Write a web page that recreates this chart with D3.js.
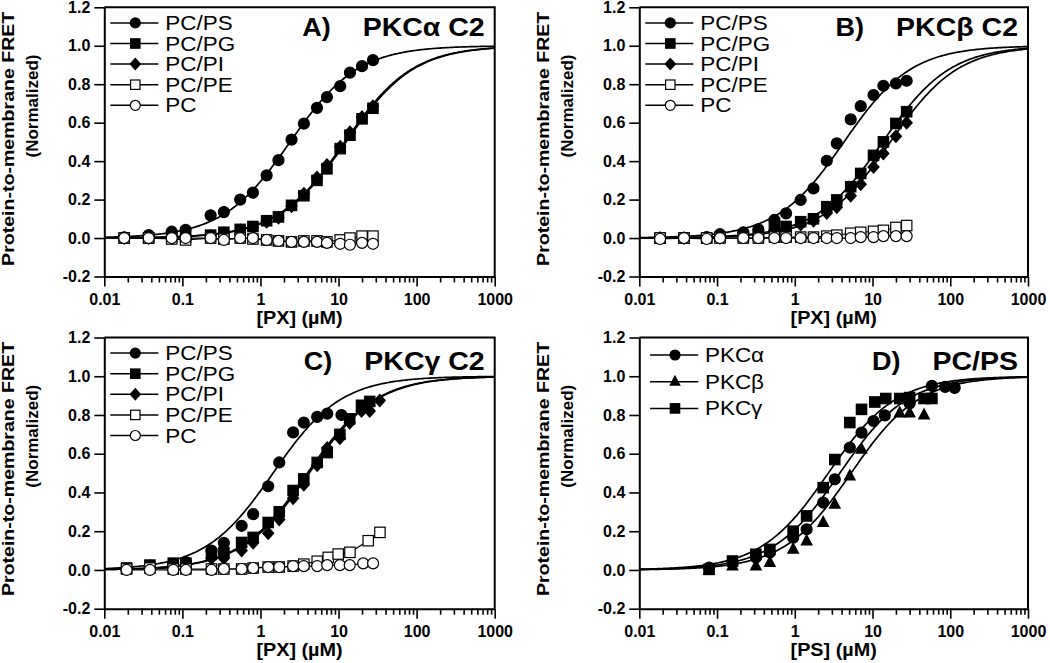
<!DOCTYPE html>
<html><head><meta charset="utf-8">
<script src="https://cdn.jsdelivr.net/npm/d3@7"></script>
<style>body{margin:0;background:#fff}svg{display:block}</style>
</head><body>
<svg id="chart" width="1050" height="663"></svg>
<script>
// ---------------- DATA ----------------
const decadeTicks = [0.01, 0.1, 1, 10, 100, 1000];
const decadeLabels = ["0.01", "0.1", "1", "10", "100", "1000"];
const yTicks = [-0.2, 0.0, 0.2, 0.4, 0.6, 0.8, 1.0, 1.2];
const panelLetters = ["A)", "B)", "C)", "D)"];
const panelTitles = ["PKCα C2", "PKCβ C2", "PKCγ C2", "PC/PS"];
const xTitles = ["[PX] (µM)", "[PX] (µM)", "[PX] (µM)", "[PS] (µM)"];
const yTitle1 = "Protein-to-membrane FRET";
const yTitle2 = "(Normalized)";
const lipidNames = ["PC/PS", "PC/PG", "PC/PI", "PC/PE", "PC"];
const isoformNames = ["PKCα", "PKCβ", "PKCγ"];

// Panel A: PKCalpha C2
const concA = [0.018, 0.037, 0.073, 0.11, 0.23, 0.34, 0.55, 0.8, 1.2, 1.7, 2.5, 3.6, 5.3, 7.1, 10.5, 14, 20, 27.6];
const A_PS = [0.003, 0.015, 0.033, 0.043, 0.118, 0.135, 0.2, 0.236, 0.326, 0.405, 0.512, 0.595, 0.677, 0.733, 0.79, 0.86, 0.894, 0.925];
const A_PG = [0.0, 0.0, 0.005, 0.005, 0.015, 0.03, 0.045, 0.06, 0.09, 0.11, 0.17, 0.22, 0.30, 0.36, 0.465, 0.535, 0.62, 0.675];
const A_PI = [0.0, 0.0, 0.005, 0.005, 0.01, 0.025, 0.04, 0.055, 0.085, 0.105, 0.165, 0.23, 0.315, 0.38, 0.475, 0.55, 0.63, 0.685];
const A_PE = [0.0, 0.0, -0.005, -0.01, 0.0, -0.005, 0.0, -0.005, -0.01, -0.015, -0.02, -0.015, -0.015, -0.02, -0.01, 0.0, 0.01, 0.01];
const A_PC = [0.0, 0.0, 0.0, 0.0, 0.0, -0.01, 0.0, 0.0, -0.01, -0.015, -0.02, -0.02, -0.02, -0.025, -0.03, -0.035, -0.025, -0.03];
const kdA = [2.4, 12.5, 12.0];   // fitted Kd (PS, PG, PI)

// Panel B: PKCbeta C2
const concB = [0.0185, 0.0376, 0.0736, 0.109, 0.218, 0.34, 0.547, 0.773, 1.19, 1.74, 2.58, 3.47, 5.24, 7.05, 10.3, 13.8, 20.0, 27.5];
const B_PS = [0.0, 0.0, 0.005, 0.02, 0.03, 0.045, 0.094, 0.128, 0.198, 0.258, 0.402, 0.492, 0.617, 0.686, 0.744, 0.792, 0.804, 0.818];
const B_PG = [0.0, 0.0, 0.0, 0.005, 0.01, 0.015, 0.06, 0.06, 0.085, 0.10, 0.163, 0.198, 0.267, 0.336, 0.43, 0.50, 0.596, 0.657];
const B_PI = [0.0, 0.0, 0.0, 0.0, 0.005, 0.01, 0.04, 0.05, 0.07, 0.09, 0.13, 0.16, 0.22, 0.28, 0.37, 0.44, 0.53, 0.60];
const B_PE = [0.0, 0.0, 0.0, 0.0, 0.0, 0.0, 0.005, 0.005, 0.005, 0.005, 0.01, 0.015, 0.025, 0.03, 0.035, 0.04, 0.055, 0.065];
const B_PC = [-0.005, 0.0, -0.005, 0.0, 0.0, 0.0, 0.0, 0.0, 0.0, 0.0, 0.0, 0.0, 0.0, 0.005, 0.005, 0.01, 0.01, 0.01];
const kdB = [4.3, 13.5, 17.0];

// Panel C: PKCgamma C2
const concC_PS = [0.0193, 0.0384, 0.0764, 0.111, 0.236, 0.34, 0.574, 0.807, 1.256, 1.74, 2.62, 3.59, 5.33, 7.16, 10.9];
const C_PS = [0.005, 0.01, 0.025, 0.04, 0.10, 0.14, 0.228, 0.288, 0.432, 0.555, 0.71, 0.761, 0.79, 0.807, 0.80];
const concC_PG = [0.0193, 0.0384, 0.0764, 0.111, 0.236, 0.34, 0.574, 0.807, 1.256, 1.74, 2.62, 3.59, 5.33, 7.16, 10.4, 13.9, 19.7, 25.1];
const C_PG = [0.01, 0.025, 0.035, 0.035, 0.08, 0.09, 0.142, 0.168, 0.245, 0.30, 0.41, 0.47, 0.555, 0.606, 0.70, 0.78, 0.85, 0.87];
const concC_PI = [0.0193, 0.0384, 0.0764, 0.111, 0.236, 0.34, 0.574, 0.807, 1.256, 1.74, 2.62, 3.59, 5.33, 7.16, 10.4, 13.9, 19.7, 25.1, 33.7];
const C_PI = [0.005, 0.02, 0.03, 0.04, 0.06, 0.06, 0.10, 0.14, 0.19, 0.26, 0.37, 0.44, 0.54, 0.63, 0.68, 0.76, 0.82, 0.82, 0.875];
const concC_PE = [0.0193, 0.0384, 0.0764, 0.111, 0.236, 0.34, 0.574, 0.807, 1.256, 1.74, 2.62, 3.59, 5.33, 7.38, 9.9, 14.0, 24.0, 33.9];
const C_PE = [0.005, 0.01, 0.005, 0.005, 0.005, 0.005, 0.005, 0.01, 0.015, 0.015, 0.02, 0.03, 0.045, 0.065, 0.082, 0.091, 0.151, 0.194];
const concC_PC = [0.0193, 0.0384, 0.0764, 0.111, 0.236, 0.34, 0.574, 0.807, 1.256, 1.74, 2.62, 3.59, 5.33, 7.16, 10.4, 13.9, 20.7, 27.7];
const C_PC = [0.0, 0.0, 0.0, 0.0, 0.0, 0.005, 0.005, 0.01, 0.015, 0.015, 0.02, 0.02, 0.02, 0.025, 0.025, 0.025, 0.034, 0.034];
const kdC = [1.45, 4.0, 4.2];

// Panel D: PC/PS, three isoforms
const concD_a = [0.079, 0.158, 0.316, 0.478, 0.953, 1.42, 2.32, 3.27, 5.1, 7.22, 10.3, 14.4, 30, 58, 86, 114];
const D_a = [0.012, 0.034, 0.064, 0.09, 0.167, 0.21, 0.348, 0.468, 0.632, 0.709, 0.769, 0.798, 0.86, 0.95, 0.945, 0.94];
const concD_b = [0.079, 0.158, 0.316, 0.478, 0.953, 1.42, 2.32, 3.27, 5.1, 7.22, 22.4, 30, 46];
const D_b = [0.0, 0.02, 0.02, 0.038, 0.106, 0.149, 0.244, 0.339, 0.485, 0.623, 0.81, 0.81, 0.80];
const concD_g = [0.079, 0.158, 0.316, 0.478, 0.953, 1.42, 2.32, 3.27, 5.1, 7.22, 10.7, 14.8, 22.4, 30, 46, 58];
const D_g = [0.003, 0.046, 0.081, 0.106, 0.2, 0.279, 0.425, 0.57, 0.761, 0.829, 0.867, 0.885, 0.885, 0.89, 0.885, 0.885];
const kdD = [3.8, 5.3, 2.7];   // alpha, beta, gamma

// ---------------- PANELS ----------------
const panels = [
  { series: [
      { name: lipidNames[0], x: concA, y: A_PS, m: "circle", kd: kdA[0] },
      { name: lipidNames[1], x: concA, y: A_PG, m: "square", kd: kdA[1] },
      { name: lipidNames[2], x: concA, y: A_PI, m: "diamond", kd: kdA[2] },
      { name: lipidNames[3], x: concA, y: A_PE, m: "osquare", connect: true },
      { name: lipidNames[4], x: concA, y: A_PC, m: "ocircle", connect: true } ] },
  { series: [
      { name: lipidNames[0], x: concB, y: B_PS, m: "circle", kd: kdB[0] },
      { name: lipidNames[1], x: concB, y: B_PG, m: "square", kd: kdB[1] },
      { name: lipidNames[2], x: concB, y: B_PI, m: "diamond", kd: kdB[2] },
      { name: lipidNames[3], x: concB, y: B_PE, m: "osquare", connect: true },
      { name: lipidNames[4], x: concB, y: B_PC, m: "ocircle", connect: true } ] },
  { series: [
      { name: lipidNames[0], x: concC_PS, y: C_PS, m: "circle", kd: kdC[0] },
      { name: lipidNames[1], x: concC_PG, y: C_PG, m: "square", kd: kdC[1] },
      { name: lipidNames[2], x: concC_PI, y: C_PI, m: "diamond", kd: kdC[2] },
      { name: lipidNames[3], x: concC_PE, y: C_PE, m: "osquare", connect: true },
      { name: lipidNames[4], x: concC_PC, y: C_PC, m: "ocircle", connect: true } ] },
  { series: [
      { name: isoformNames[0], x: concD_a, y: D_a, m: "circle", kd: kdD[0] },
      { name: isoformNames[1], x: concD_b, y: D_b, m: "triangle", kd: kdD[1] },
      { name: isoformNames[2], x: concD_g, y: D_g, m: "square", kd: kdD[2] } ], iso: true }
];

// ---------------- LAYOUT ----------------
const FONT = "'Liberation Sans', Arial, Helvetica, sans-serif";
const cols = [{ l: 104.3, r: 494.7 }, { l: 639.3, r: 1028 }];
const rows = [{ t: 7.3, b: 276.5, title: 28.7 }, { t: 337.5, b: 608.7, title: 32.8 }];

const svg = d3.select("#chart");
svg.append("rect").attr("width", 1050).attr("height", 663).attr("fill", "#fff");

function stretch(sel, k) {
  sel.each(function () {
    const L = this.getComputedTextLength();
    d3.select(this).attr("textLength", L * k).attr("lengthAdjust", "spacingAndGlyphs");
  });
}

function marker(g, type, cx, cy, s) {
  const h = s / 2;
  if (type === "circle" || type === "ocircle") {
    g.append("circle").attr("cx", cx).attr("cy", cy).attr("r", h)
      .attr("fill", type === "circle" ? "#000" : "#fff").attr("stroke", "#000").attr("stroke-width", 1.2);
  } else if (type === "square" || type === "osquare") {
    const q = h - 0.3;
    g.append("rect").attr("x", cx - q).attr("y", cy - q).attr("width", 2 * q).attr("height", 2 * q)
      .attr("fill", type === "square" ? "#000" : "#fff").attr("stroke", "#000").attr("stroke-width", 1.2);
  } else if (type === "diamond") {
    const d = h + 1.5;
    g.append("path").attr("d", `M${cx},${cy - d}L${cx + d * 0.9},${cy}L${cx},${cy + d}L${cx - d * 0.9},${cy}Z`).attr("fill", "#000");
  } else if (type === "triangle") {
    const a = s * 1.15;
    g.append("path").attr("d", `M${cx},${cy - a * 0.6}L${cx + a / 2},${cy + a * 0.35}L${cx - a / 2},${cy + a * 0.35}Z`).attr("fill", "#000");
  }
}

const minorTicks = [];
decadeTicks.slice(0, -1).forEach(d => { for (let k = 2; k <= 9; k++) minorTicks.push(d * k); });
const curveX = d3.range(-2, 3.0001, 0.02).map(p => Math.pow(10, p));

panels.forEach((p, i) => {
  const c = cols[i % 2], rw = rows[Math.floor(i / 2)];
  const x = d3.scaleLog().domain([0.01, 1000]).range([c.l, c.r]);
  const y = d3.scaleLinear().domain([-0.2, 1.2]).range([rw.b, rw.t]);
  const g = svg.append("g");

  // frame (top & right)
  g.append("path").attr("d", `M${c.l},${rw.t}H${c.r}V${rw.b}`)
    .attr("fill", "none").attr("stroke", "#000").attr("stroke-width", 2);

  // x axis
  const xa = g.append("g").attr("transform", `translate(0,${rw.b})`)
    .call(d3.axisBottom(x).tickValues(decadeTicks).tickFormat((d, k) => decadeLabels[k]).tickSize(10).tickSizeOuter(0).tickPadding(7));
  const xm = g.append("g").attr("transform", `translate(0,${rw.b})`)
    .call(d3.axisBottom(x).tickValues(minorTicks).tickFormat("").tickSize(6).tickSizeOuter(0));
  xm.select(".domain").remove();
  // y axis
  const ya = g.append("g").attr("transform", `translate(${c.l},0)`)
    .call(d3.axisLeft(y).tickValues(yTicks).tickFormat(d => d.toFixed(1)).tickSize(10).tickSizeOuter(0).tickPadding(4));
  [xa, xm, ya].forEach(a => {
    a.select(".domain").attr("stroke-width", 2);
    a.selectAll(".tick line").attr("stroke-width", 1.6);
    a.selectAll("text").attr("font-family", FONT).attr("font-weight", "bold").attr("font-size", 16).attr("fill", "#000");
  });

  // axis titles
  g.append("text").attr("x", (c.l + c.r) / 2).attr("y", rw.b + 47.5).attr("text-anchor", "middle")
    .attr("font-family", FONT).attr("font-weight", "bold").attr("font-size", 18).text(xTitles[i])
    .call(stretch, 1.1);
  const ycx1 = c.l - 90.5, ycx2 = c.l - 66.5;
  g.append("text").attr("transform", `translate(${ycx1},${rw.t + 131.5}) rotate(-90)`).attr("text-anchor", "middle")
    .attr("font-family", FONT).attr("font-weight", "bold").attr("font-size", 17).text(yTitle1)
    .call(stretch, 1.15);
  g.append("text").attr("transform", `translate(${ycx2},${rw.t + 98.7}) rotate(-90)`).attr("text-anchor", "middle")
    .attr("font-family", FONT).attr("font-weight", "bold").attr("font-size", 17).text(yTitle2);

  // fitted curves
  const line = d3.line().x(d => x(d[0])).y(d => y(d[1]));
  p.series.filter(s => s.kd).forEach(s => {
    g.append("path").attr("d", line(curveX.map(v => [v, v / (s.kd + v)])))
      .attr("fill", "none").attr("stroke", "#000").attr("stroke-width", 1.7);
  });
  // connecting lines for control series
  p.series.filter(s => s.connect).forEach(s => {
    g.append("path").attr("d", line(s.x.map((v, k) => [v, s.y[k]])))
      .attr("fill", "none").attr("stroke", "#000").attr("stroke-width", 1.2);
  });
  // markers
  p.series.forEach(s => {
    const mg = g.append("g");
    s.x.forEach((v, k) => marker(mg, s.m, x(v), y(s.y[k]), 11));
  });

  // legend
  const lg = g.append("g");
  const L = p.iso ? { y0: 17.5, dy: 26.7, x1: 10.7, x2: 59, xm: 35.7, xt: 65.7 }
                  : { y0: 15.6, dy: 20.6, x1: 6, x2: 54, xm: 31, xt: 61 };
  p.series.forEach((s, k) => {
    const yy = rw.t + L.y0 + k * L.dy;
    lg.append("line").attr("x1", c.l + L.x1).attr("x2", c.l + L.x2).attr("y1", yy).attr("y2", yy)
      .attr("stroke", "#000").attr("stroke-width", 1.5);
    marker(lg, s.m, c.l + L.xm, yy, 10);
    lg.append("text").attr("x", c.l + L.xt).attr("y", yy).attr("dy", "0.36em")
      .attr("font-family", FONT).attr("font-size", 19.5).text(s.name).call(stretch, 1.15);
  });

  // panel title
  const tt = g.append("text").attr("x", c.r - 10).attr("y", rw.t + rw.title).attr("text-anchor", "end")
    .attr("font-family", FONT).attr("font-weight", "bold").attr("font-size", 25).text(panelTitles[i]);
  tt.call(stretch, 1.14);
  const tw = +tt.attr("textLength");
  g.append("text").attr("x", c.r - 10 - tw - 32).attr("y", rw.t + rw.title).attr("text-anchor", "end")
    .attr("font-family", FONT).attr("font-weight", "bold").attr("font-size", 25).text(panelLetters[i])
    .call(stretch, 1.08);
});
</script>
</body></html>
